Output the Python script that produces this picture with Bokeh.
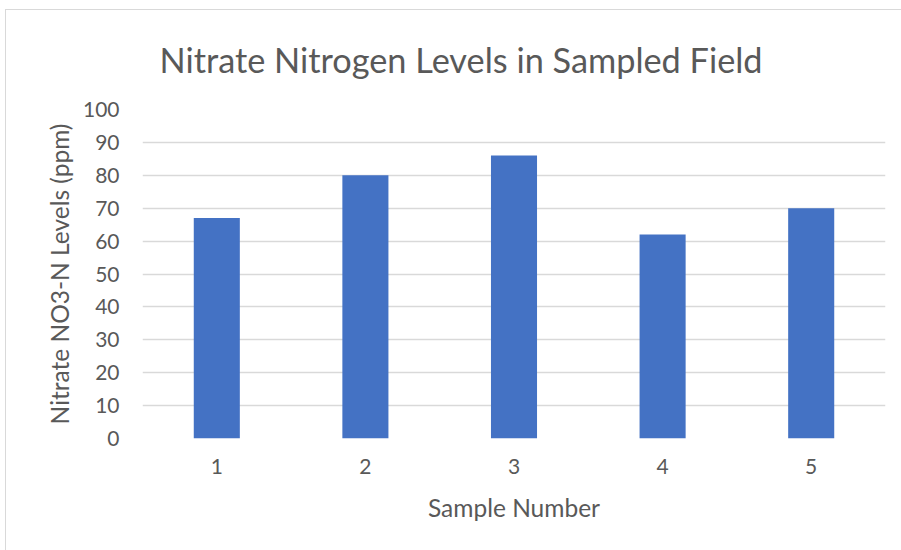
from bokeh.plotting import figure
from bokeh.models import FactorRange, Range1d, SingleIntervalTicker, Title, ColumnDataSource
from bokeh.embed import file_html
from bokeh.resources import INLINE

samples = ["1", "2", "3", "4", "5"]
nitrate = [67, 80, 86, 62, 70]
y_ticks = list(range(0, 101, 10))
title_text = "Nitrate Nitrogen Levels in Sampled Field"

FONT = "Lato"
TXT = "#595959"

src = ColumnDataSource(dict(sample=samples, value=nitrate))

p = figure(x_range=FactorRange(*samples), y_range=Range1d(0, 100),
           width=896, height=541, output_backend="svg", toolbar_location=None,
           min_border_left=136, min_border_right=17, min_border_top=99, min_border_bottom=113)
p.margin = (9, 0, 0, 5)
p.title = None
p.outline_line_color = None
p.background_fill_color = "white"
p.border_fill_color = "white"
p.styles = {"border-left": "1px solid #d9d9d9", "border-top": "1px solid #d9d9d9"}

p.vbar(x="sample", top="value", width=0.31, source=src, fill_color="#4472C4", line_color=None)

t = Title(text=title_text, align="left", offset=17, vertical_align="top",
          text_font=FONT, text_font_size="34.3px", text_font_style="normal", text_color=TXT,
          standoff=55)
p.add_layout(t, "above")

p.yaxis.ticker = SingleIntervalTicker(interval=10)
p.yaxis.axis_label = "Nitrate NO3-N Levels (ppm)"
p.xaxis.axis_label = "Sample Number"
for ax in (p.xaxis, p.yaxis):
    ax.axis_line_color = None
    ax.major_tick_line_color = None
    ax.minor_tick_line_color = None
    ax.major_label_text_font = FONT
    ax.major_label_text_font_size = "21px"
    ax.major_label_text_color = TXT
    ax.axis_label_text_font = FONT
    ax.axis_label_text_font_size = "24.5px"
    ax.axis_label_text_font_style = "normal"
    ax.axis_label_text_color = TXT
p.yaxis.major_label_standoff = 17
p.xaxis.major_label_standoff = 14
p.yaxis.axis_label_standoff = 6
p.xaxis.axis_label_standoff = 16

p.xgrid.grid_line_color = None
p.ygrid.grid_line_color = "#D9D9D9"
p.ygrid.grid_line_width = 1.5

open("out.html", "w").write(file_html(p, INLINE))
